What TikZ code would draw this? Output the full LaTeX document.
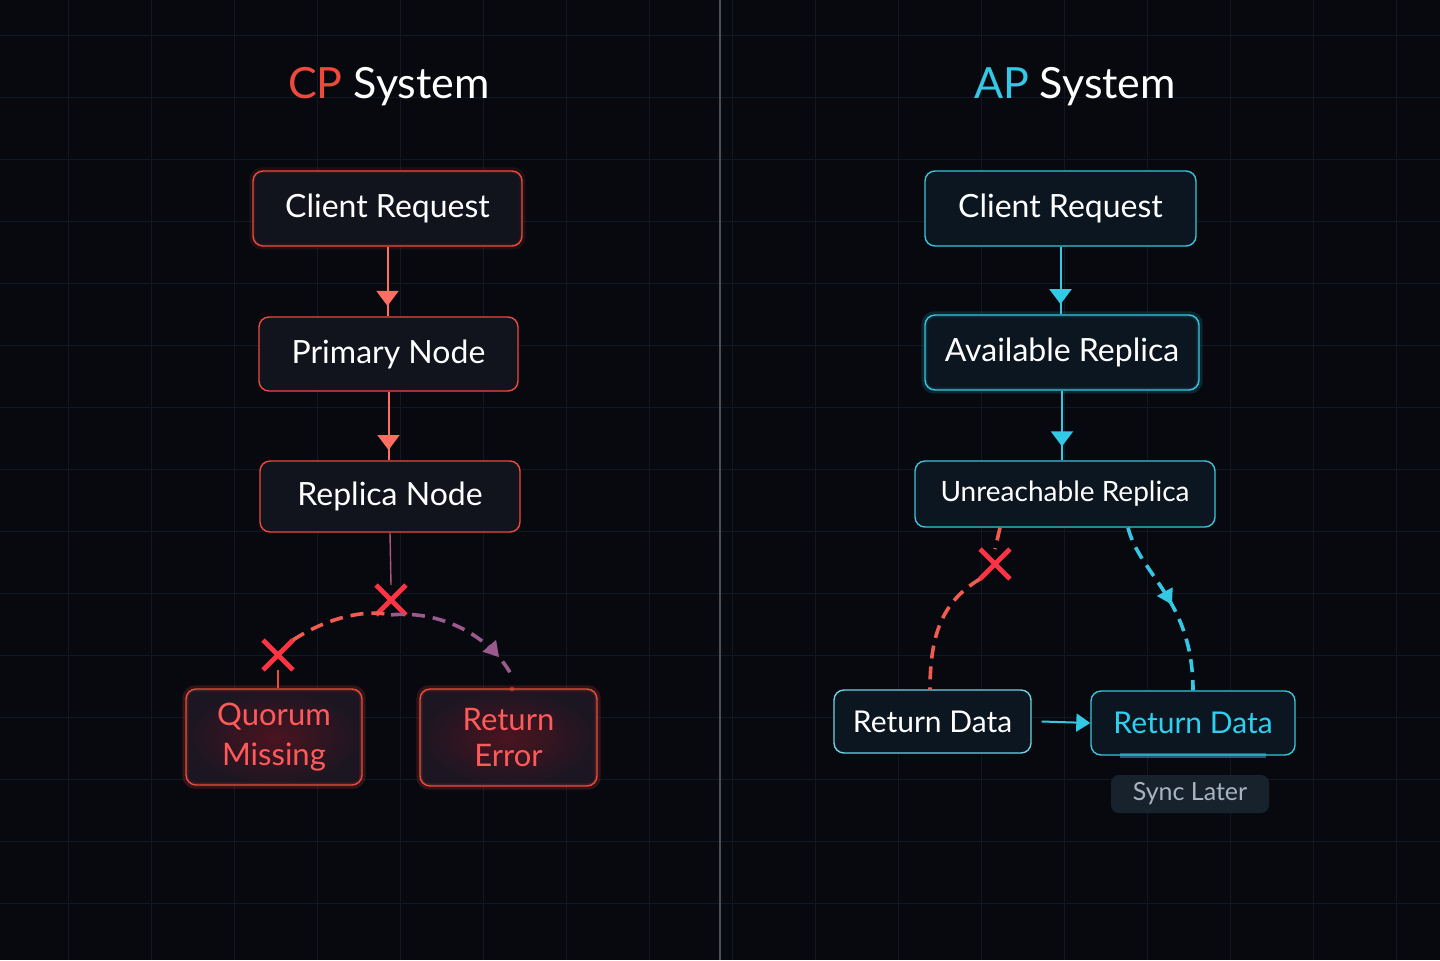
\documentclass[tikz,border=0pt]{standalone}
\usepackage{fontspec}
\setmainfont{Lato}
\usetikzlibrary{arrows.meta,shapes.misc,decorations.markings}
\definecolor{bg}{HTML}{07090F}
\definecolor{gridc}{HTML}{101824}
\definecolor{cpred}{HTML}{EE4A3C}
\definecolor{cptip}{HTML}{FF6E60}
\definecolor{xred}{HTML}{FF3344}
\definecolor{purp}{HTML}{9A5A8E}
\definecolor{cyan}{HTML}{33C8E6}
\definecolor{cyanb}{HTML}{3CC4DC}
\definecolor{cyantxt}{HTML}{2ED0F2}
\definecolor{cpfill}{HTML}{11131D}
\definecolor{apfill}{HTML}{0B1620}
\definecolor{errin}{HTML}{4A1420}
\definecolor{errout}{HTML}{1B1621}
\definecolor{errtxt}{HTML}{FF5A5A}
\definecolor{syncfill}{HTML}{18222C}
\definecolor{synctxt}{HTML}{A6B4C2}
\definecolor{divider}{HTML}{4A505A}
\tikzset{
  box/.style={rounded corners=5pt, line width=0.7pt, align=center, inner sep=0pt,
     font=\fontsize{16}{19}\selectfont, text=white},
  cpbox/.style={box, draw=cpred, fill=cpfill},
  errbox/.style={box, draw=cpred, inner color=errin, outer color=errout, text=errtxt,
     font=\fontsize{15.5}{18.5}\selectfont},
  apbox/.style={box, draw=cyanb, fill=apfill},
  glowred/.style={draw=cpred, line width=3pt, draw opacity=0.18, rounded corners=5pt},
  glowcy/.style={draw=cyan, line width=3pt, draw opacity=0.15, rounded corners=5pt},
  xmark/.style={cross out, draw=xred, line width=2.4pt, minimum size=12.5pt, inner sep=0pt},
  midarrow/.style={postaction={decorate}, decoration={markings,
     mark=at position #1 with {\arrow{Triangle[length=7.5pt,width=11pt]}}}},
  smallarrow/.style={postaction={decorate}, decoration={markings,
     mark=at position #1 with {\arrow{Triangle[length=7.5pt,width=8.5pt]}}}},
  cpflow/.style={draw=cpred, line width=1pt, color=cptip},
  apflow/.style={draw=cyan, line width=1pt, color=cyan},
  dashr/.style={draw=cpred!90!white, line width=1.8pt, dash pattern=on 6.5pt off 4pt},
  dashp/.style={draw=purp, line width=1.8pt, dash pattern=on 6.5pt off 4pt, color=purp},
  dashc/.style={draw=cyan, line width=1.8pt, dash pattern=on 6.5pt off 4pt, color=cyan},
}
\begin{document}
\begin{tikzpicture}[x=0.5pt,y=-0.5pt]
\useasboundingbox (0,0) rectangle (1440,960);
\fill[bg] (0,0) rectangle (1440,960);
% grid
\foreach \gx in {68,151,...,1440} \draw[gridc, line width=0.4pt] (\gx,0) -- (\gx,960);
\foreach \gy in {35,97,...,960} \draw[gridc, line width=0.4pt] (0,\gy) -- (1440,\gy);
% divider
\draw[divider, line width=0.8pt] (720,0) -- (720,960);

% titles
\node[font=\fontsize{21.5}{25}\selectfont, text=white] (cpt) at (389,87) {\textcolor{cpred}{CP} System};
\node[font=\fontsize{21.5}{25}\selectfont, text=white] (apt) at (1075,87) {\textcolor{cyan}{AP} System};

% CP nodes
\node[cpbox, minimum width=134.5pt, minimum height=37.5pt] (c1) at (387.5,208.5) {\raisebox{-1pt}{Client Request}};
\node[cpbox, minimum width=129.5pt, minimum height=37pt] (c2) at (388.5,354) {\raisebox{-1pt}{Primary Node}};
\node[cpbox, minimum width=130pt, minimum height=35.5pt] (c3) at (390,496.5) {\raisebox{-1pt}{Replica Node}};
\node[errbox, minimum width=88pt, minimum height=48pt] (c4) at (274,737) {\raisebox{-2pt}{\shortstack{Quorum\\[3.5pt]Missing}}};
\node[errbox, minimum width=88.5pt, minimum height=48.5pt] (c5) at (508.5,737.5) {\raisebox{-2pt}{\shortstack{Return\\[3.5pt]Error}}};
\draw[glowred] (c4.south west) rectangle (c4.north east);
\draw[glowred] (c5.south west) rectangle (c5.north east);
\draw[glowred, draw opacity=0.1] (c1.south west) rectangle (c1.north east);

% CP connectors
\draw[cpflow, midarrow=0.85] (c1.south) -- (c1.south |- c2.north);
\draw[cpflow, midarrow=0.85] (c2.south) -- (c2.south |- c3.north);
\node[xmark] (x1) at (391,600) {};
\node[xmark] (x2) at (278,655) {};
\draw[draw=purp!80!cpred, line width=0.7pt] (c3.south) -- (x1.north);
\draw[dashr] (x2.north east) .. controls (320,622) and (360,608) .. (x1.south);
\coordinate (e1) at (512,676);
\draw[dashp, smallarrow=0.84] (x1.south) .. controls (440,610) and (490,635) .. (e1);
\draw[cpred, line width=1pt] (x2.south) -- (c4.north -| x2.south);
\fill[cpred, opacity=0.5] (512,689) circle (2.5);

% AP nodes
\node[apbox, minimum width=135.5pt, minimum height=37.5pt] (a1) at (1060.5,208.5) {\raisebox{-2pt}{Client Request}};
\node[apbox, minimum width=137pt, minimum height=37.5pt] (a2) at (1062,352.5) {Available Replica};
\node[apbox, minimum width=150pt, minimum height=33pt, font=\fontsize{14}{17}\selectfont] (a3) at (1065,494) {\raisebox{-1pt}{Unreachable Replica}};
\node[apbox, draw=cyanb!75!white, minimum width=98.5pt, minimum height=31.5pt, font=\fontsize{15}{18}\selectfont] (a4) at (932.5,721.5) {Return Data};
\node[apbox, minimum width=102pt, minimum height=32pt, text=cyantxt, font=\fontsize{15}{18}\selectfont] (a5) at (1193,723) {Return Data};
\node[box, rounded corners=4pt, fill=syncfill, text=synctxt, minimum width=79pt, minimum height=19pt, font=\fontsize{12.5}{15}\selectfont] (a6) at (1190,794) {Sync Later};
\draw[glowcy] (a2.south west) rectangle (a2.north east);
\draw[cyan, line width=2.5pt, opacity=0.45] ([xshift=15pt]a5.south west) -- ([xshift=-15pt]a5.south east);

% AP connectors
\draw[apflow, midarrow=0.85] (a1.south) -- (a1.south |- a2.north);
\draw[apflow, midarrow=0.8] (a2.south) -- (a2.south |- a3.north);
\node[xmark] (x3) at (995,564) {};
\draw[dashr] (a3.south -| 1000,0) -- (x3.north);
\draw[dashr] (x3.south west) .. controls (945,600) and (930,630) .. (a4.north -| 930,0);
\draw[dashc, smallarrow=0.5] (a3.south -| 1128,0) .. controls (1140,575) and (1193,600) .. (a5.north -| 1193,0);
\draw[apflow, -{Triangle[length=7pt,width=9pt]}] ([xshift=5pt]a4.east) -- (a5.west);
\end{tikzpicture}
\end{document}
